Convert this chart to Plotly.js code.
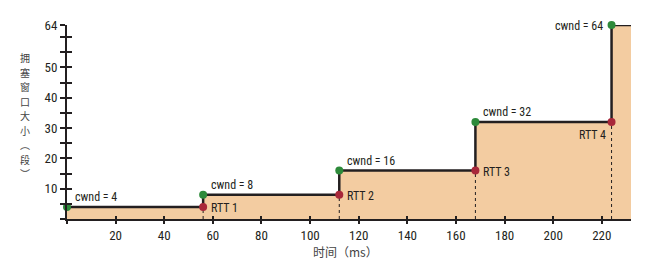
<!DOCTYPE html>
<html><head><meta charset="utf-8">
<script src="https://cdn.plot.ly/plotly-3.0.1.min.js"></script>
<style>html,body{margin:0;padding:0;background:#fff}#chart{width:650px;height:276px}</style>
</head><body><div id="chart"></div>
<script>
// ---- data ----
const stepTimes = [0, 56, 112, 168, 224, 232];
const stepCwnd = [4, 8, 16, 32, 64, 64];
const cwndTimes = [0, 56, 112, 168, 224];
const cwndValues = [4, 8, 16, 32, 64];
const cwndLabels = ['cwnd = 4', 'cwnd = 8', 'cwnd = 16', 'cwnd = 32', 'cwnd = 64'];
const rttTimes = [56, 112, 168, 224];
const rttValues = [4, 8, 16, 32];
const rttLabels = ['RTT 1', 'RTT 2', 'RTT 3', 'RTT 4'];
const xTickVals = [0, 20, 40, 60, 80, 100, 120, 140, 160, 180, 200, 220];
const xTickText = ['', '20', '40', '60', '80', '100', '120', '140', '160', '180', '200', '220'];
const yTickVals = [0, 5, 10, 15, 20, 25, 30, 35, 40, 45, 50, 55, 60, 64];
const yTickText = ['', '', '10', '', '20', '', '30', '', '40', '', '50', '', '', '64'];
const xTitle = '时间（ms）';
const yTitleChars = ['拥', '塞', '窗', '口', '大', '小', '︵', '段', '︶'];

const narrow = '"Roboto Condensed", "Liberation Sans", Arial, sans-serif';
const cjk = '"Noto Sans CJK SC", sans-serif';
const ink = '#231f20';

// dotted verticals from each RTT point down to the axis
const dotX = [], dotY = [];
rttTimes.forEach((t, i) => { dotX.push(t, t, null); dotY.push(0, rttValues[i], null); });

const traces = [
  {x: stepTimes, y: stepCwnd, type: 'scatter', mode: 'lines', line: {shape: 'hv', color: ink, width: 2.5},
   fill: 'tozeroy', fillcolor: 'rgb(243,204,161)', hoverinfo: 'skip'},
  {x: dotX, y: dotY, type: 'scatter', mode: 'lines', line: {color: ink, width: 1, dash: 'dot'}, hoverinfo: 'skip'},
  {x: rttTimes, y: rttValues, type: 'scatter', mode: 'markers', marker: {color: '#a8283a', size: 8}, cliponaxis: false},
  {x: cwndTimes, y: cwndValues, type: 'scatter', mode: 'markers', marker: {color: '#2d8a3a', size: 8}, cliponaxis: false},
  {x: [0], y: [0], xaxis: 'x2', yaxis: 'y2', type: 'scatter', mode: 'markers', marker: {opacity: 0}, hoverinfo: 'skip'}
];

const annotations = [];
cwndTimes.forEach((t, i) => {
  const last = i === cwndTimes.length - 1;
  annotations.push({x: t, y: cwndValues[i], text: cwndLabels[i], showarrow: false,
    xanchor: last ? 'right' : 'left', yanchor: 'middle',
    xshift: last ? -7 : 6, yshift: last ? -1 : 10,
    font: {family: narrow, size: 12, color: ink}});
});
rttTimes.forEach((t, i) => {
  const last = i === rttTimes.length - 1;
  annotations.push({x: t, y: rttValues[i], text: rttLabels[i], showarrow: false,
    xanchor: last ? 'right' : 'left', yanchor: 'middle',
    xshift: last ? -4 : 6, yshift: last ? -13 : -1,
    font: {family: narrow, size: 12, color: ink}});
});
annotations.push({xref: 'paper', yref: 'paper', x: 0.493, y: -0.17, text: xTitle, showarrow: false,
  xanchor: 'center', yanchor: 'middle', font: {family: cjk, size: 12, color: '#444'}});
// vertical stacked y-axis title, one character per line
yTitleChars.forEach((ch, i) => {
  annotations.push({xref: 'paper', yref: 'paper', x: -0.0745, y: 0.83 - i * 0.0747, text: ch, showarrow: false,
    xanchor: 'center', yanchor: 'middle', font: {family: cjk, size: 10, color: '#444'}});
});

const xRange = [0, 232], yRange = [0, 64];
const layout = {
  width: 650, height: 276, margin: {l: 67, r: 19, t: 25, b: 57},
  paper_bgcolor: '#fff', plot_bgcolor: '#fff', showlegend: false,
  xaxis: {range: xRange, tickvals: xTickVals, ticktext: xTickText, ticks: 'outside', ticklen: 3, tickwidth: 2, tickcolor: ink,
    showline: true, linecolor: ink, linewidth: 2, showgrid: false, zeroline: false,
    tickfont: {family: narrow, size: 13, color: ink}},
  yaxis: {range: yRange, tickvals: yTickVals, ticktext: yTickText, ticks: 'outside', ticklen: 5, tickwidth: 2, tickcolor: ink,
    showline: true, linecolor: ink, linewidth: 2, showgrid: false, zeroline: false,
    tickfont: {family: narrow, size: 13, color: ink}},
  xaxis2: {range: xRange, overlaying: 'x', anchor: 'y2', tickvals: xTickVals, ticks: 'inside', ticklen: 3, tickwidth: 2, tickcolor: ink,
    showticklabels: false, showline: false, showgrid: false, zeroline: false},
  yaxis2: {range: yRange, overlaying: 'y', anchor: 'x2', tickvals: yTickVals, ticks: 'inside', ticklen: 5, tickwidth: 2, tickcolor: ink,
    showticklabels: false, showline: false, showgrid: false, zeroline: false},
  annotations: annotations
};
Plotly.newPlot('chart', traces, layout, {staticPlot: true, displayModeBar: false});
</script></body></html>
